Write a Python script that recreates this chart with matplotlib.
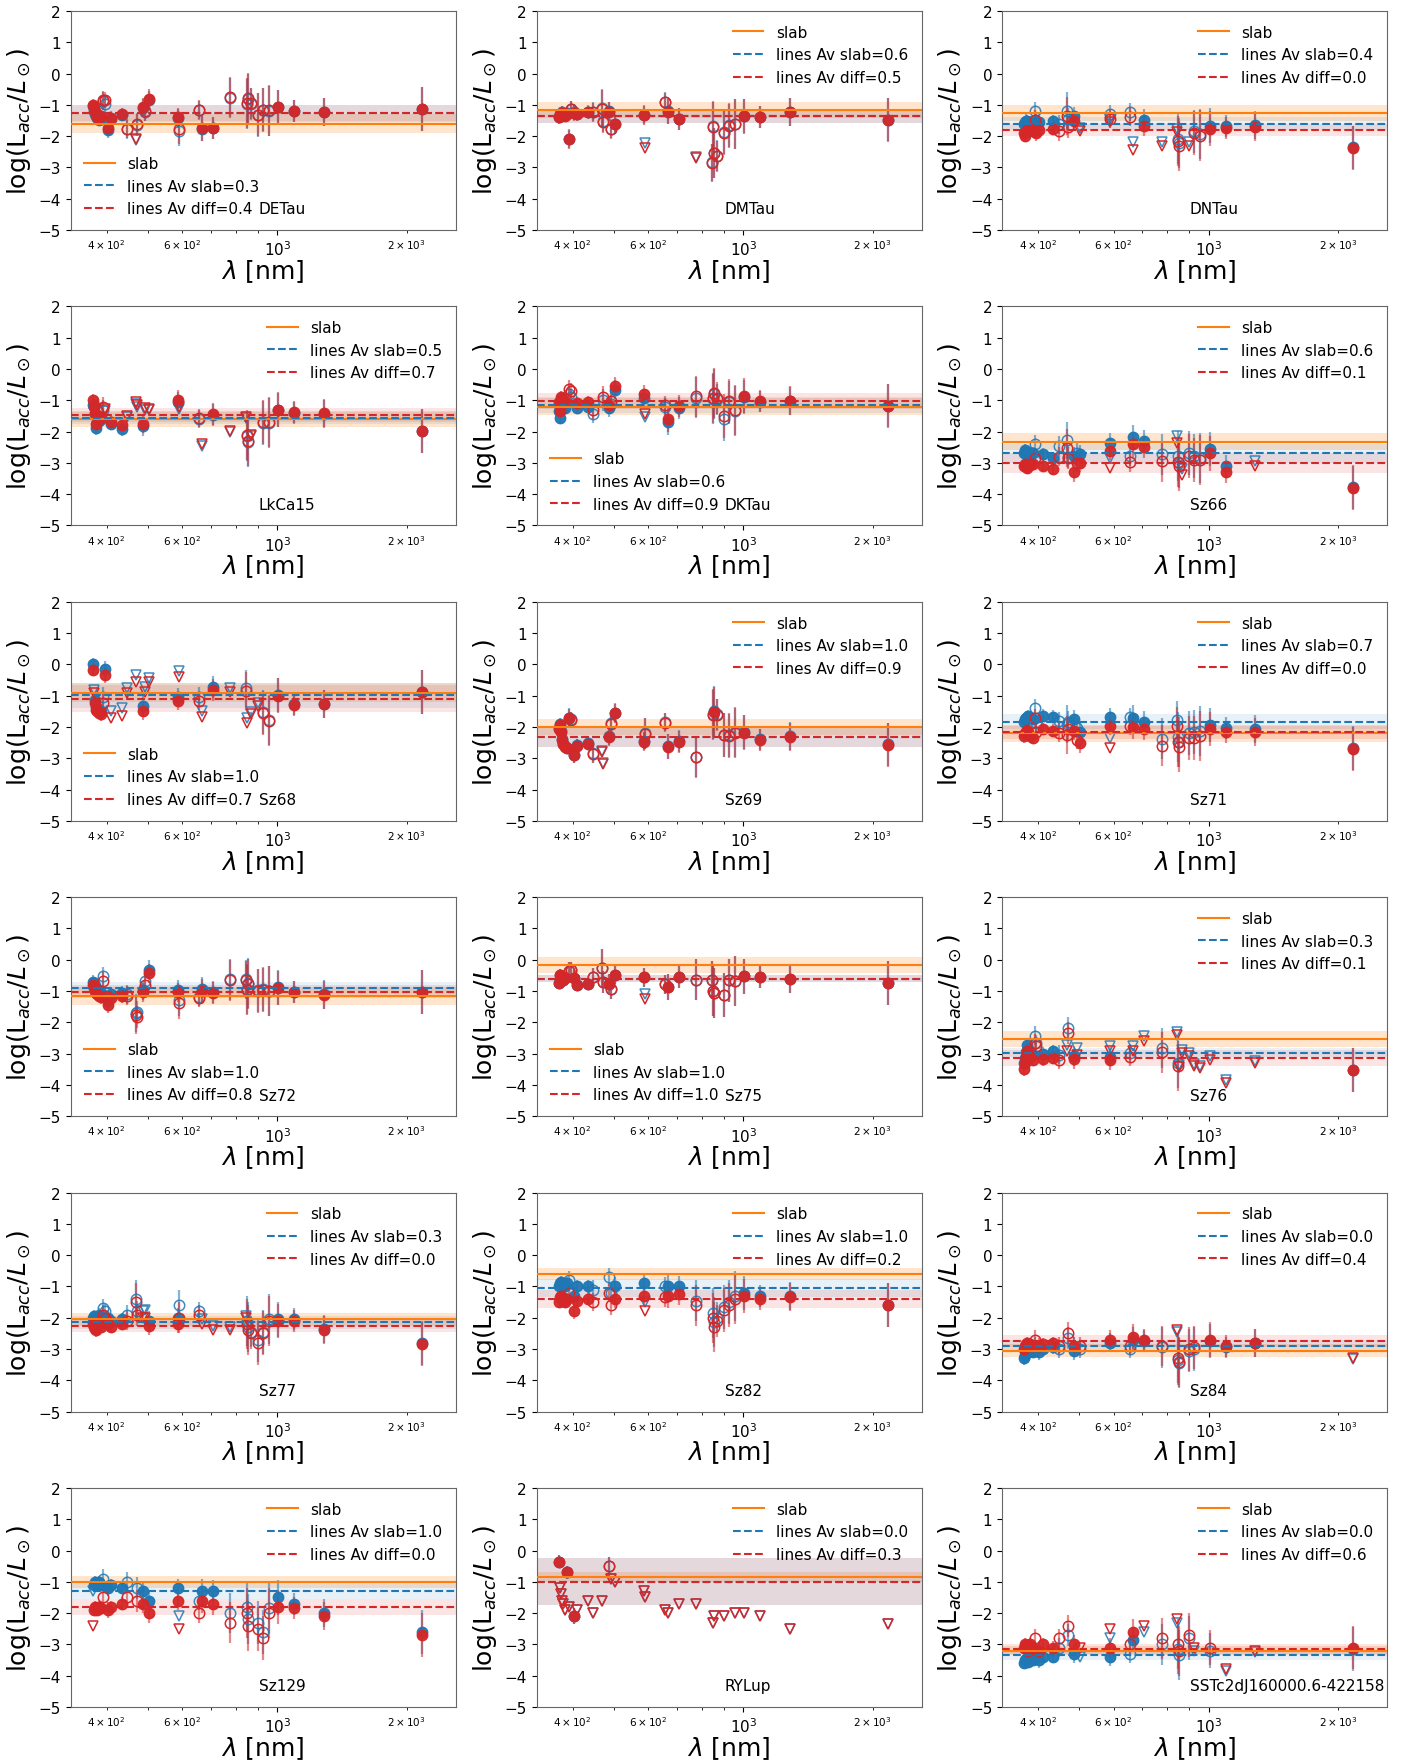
import numpy as np
import matplotlib
matplotlib.use('Agg')
import matplotlib.pyplot as plt
from matplotlib.lines import Line2D

# ---------------- data ----------------
LINE_WL = [371.2, 373.4, 375.0, 377.1, 379.8, 383.5, 388.9, 393.4, 396.8, 402.6,
           410.2, 434.0, 447.1, 468.6, 471.3, 486.1, 492.2, 501.6, 587.6, 589.0,
           656.3, 667.8, 706.5, 777.3, 844.6, 849.8, 854.2, 866.2, 901.5, 922.9,
           954.6, 1004.9, 1093.8, 1281.8, 2166.1]
LINE_ERR = [0.2, 0.2, 0.2, 0.2, 0.2, 0.2, 0.2, 0.3, 0.25, 0.25,
            0.2, 0.2, 0.3, 0.6, 0.35, 0.3, 0.3, 0.3, 0.3, 0.5,
            0.3, 0.4, 0.35, 0.65, 0.6, 0.8, 0.8, 0.5, 0.7, 0.7,
            0.8, 0.55, 0.35, 0.45, 0.7]

STARS = ['DETau', 'DMTau', 'DNTau', 'LkCa15', 'DKTau', 'Sz66',
         'Sz68', 'Sz69', 'Sz71', 'Sz72', 'Sz75', 'Sz76',
         'Sz77', 'Sz82', 'Sz84', 'Sz129', 'RYLup', 'SSTc2dJ160000.6-422158']
AV_SLAB = [0.3, 0.6, 0.4, 0.5, 0.6, 0.6, 1.0, 1.0, 0.7, 1.0, 1.0, 0.3, 0.3, 1.0, 0.0, 1.0, 0.0, 0.0]
AV_DIFF = [0.4, 0.5, 0.0, 0.7, 0.9, 0.1, 0.7, 0.9, 0.0, 0.8, 1.0, 0.1, 0.0, 0.2, 0.4, 0.0, 0.3, 0.6]
SLAB_LOG = [-1.60, -1.17, -1.27, -1.60, -1.21, -2.33, -0.90, -2.00, -2.20, -1.16, -0.17, -2.53,
            -2.05, -0.60, -3.05, -1.00, -0.85, -3.20]
SLAB_ERR = [0.30, 0.25, 0.25, 0.25, 0.27, 0.27, 0.30, 0.25, 0.27, 0.29, 0.26, 0.26,
            0.20, 0.20, 0.20, 0.20, 0.15, 0.15]
BLUE_MEAN = [-1.26, -1.37, -1.60, -1.56, -1.16, -2.70, -0.98, -2.33, -1.83, -0.91, -0.60, -2.97,
             -2.15, -1.05, -2.90, -1.30, -1.00, -3.35]
BLUE_STD = [0.27, 0.20, 0.20, 0.20, 0.25, 0.30, 0.40, 0.30, 0.23, 0.20, 0.12, 0.15,
            0.20, 0.30, 0.20, 0.25, 0.75, 0.15]
RED_MEAN = [-1.27, -1.37, -1.81, -1.47, -1.03, -3.01, -1.10, -2.33, -2.17, -1.02, -0.60, -3.14,
            -2.25, -1.40, -2.75, -1.80, -1.00, -3.15]
RED_STD = [0.27, 0.20, 0.19, 0.22, 0.25, 0.33, 0.43, 0.30, 0.20, 0.20, 0.12, 0.25,
           0.20, 0.30, 0.20, 0.25, 0.75, 0.15]
LEGEND_LOC = ['lower left', 'upper right', 'upper right', 'upper right', 'lower left', 'upper right',
              'lower left', 'upper right', 'upper right', 'lower left', 'lower left', 'upper right',
              'upper right', 'upper right', 'upper right', 'upper right', 'upper right', 'upper right']

# points: (wavelength nm, red value, blue value, kind) ; f=filled, o=open, v=upper limit
DETau = [(371.2, -1.02, -1.05, 'f'), (373.4, -1.10, -1.20, 'f'), (375.0, -1.20, -1.30, 'f'),
         (377.1, -1.30, -1.36, 'f'), (379.8, -1.38, -1.42, 'f'), (383.5, -1.40, -1.48, 'f'),
         (388.9, -1.35, -1.45, 'f'), (393.4, -0.85, -0.88, 'o'), (396.8, -0.85, -0.98, 'o'),
         (402.6, -1.74, -1.80, 'f'), (410.2, -1.41, -1.45, 'f'), (434.0, -1.29, -1.33, 'f'),
         (447.1, -1.76, -1.78, 'o'), (468.6, -2.10, -2.12, 'v'), (471.3, -1.60, -1.63, 'o'),
         (486.1, -1.07, -1.10, 'f'), (492.2, -1.20, -1.23, 'o'), (501.6, -0.80, -0.85, 'f'),
         (587.6, -1.40, -1.43, 'f'), (589.0, -1.76, -1.82, 'o'), (656.3, -1.15, -1.17, 'o'),
         (667.8, -1.74, -1.76, 'f'), (706.5, -1.74, -1.75, 'f'), (777.3, -0.75, -0.78, 'o'),
         (849.8, -0.95, -0.97, 'o'), (854.2, -0.78, -0.80, 'o'), (866.2, -0.95, -0.97, 'o'),
         (901.5, -1.31, -1.33, 'o'), (922.9, -1.15, -1.17, 'o'), (954.6, -1.18, -1.20, 'o'),
         (1004.9, -1.07, -1.08, 'f'), (1093.8, -1.20, -1.21, 'f'), (1281.8, -1.22, -1.22, 'f'),
         (2166.1, -1.13, -1.13, 'f')]
DMTau = [(371.2, -1.40, -1.38, 'f'), (373.4, -1.30, -1.28, 'f'), (375.0, -1.35, -1.33, 'f'),
         (377.1, -1.25, -1.23, 'f'), (379.8, -1.30, -1.28, 'f'), (383.5, -1.35, -1.33, 'f'),
         (388.9, -1.28, -1.26, 'f'), (393.4, -2.10, -2.08, 'f'), (396.8, -1.14, -1.12, 'o'),
         (402.6, -1.25, -1.23, 'o'), (410.2, -1.30, -1.28, 'f'), (434.0, -1.24, -1.22, 'f'),
         (447.1, -1.24, -1.22, 'o'), (468.6, -1.12, -1.10, 'o'), (471.3, -1.55, -1.53, 'o'),
         (486.1, -1.22, -1.20, 'f'), (492.2, -1.78, -1.76, 'o'), (501.6, -1.62, -1.60, 'f'),
         (587.6, -1.33, -1.31, 'f'), (589.0, -2.37, -2.23, 'v'), (656.3, -0.92, -0.90, 'o'),
         (667.8, -1.22, -1.20, 'f'), (706.5, -1.46, -1.44, 'f'), (777.3, -2.70, -2.68, 'v'),
         (844.6, -2.86, -2.84, 'o'), (849.8, -1.70, -1.68, 'o'), (854.2, -2.55, -2.53, 'o'),
         (866.2, -2.64, -2.62, 'o'), (901.5, -1.89, -1.87, 'o'), (922.9, -1.67, -1.65, 'o'),
         (954.6, -1.62, -1.60, 'o'), (1004.9, -1.37, -1.36, 'f'), (1093.8, -1.40, -1.39, 'f'),
         (1281.8, -1.24, -1.23, 'f'), (2166.1, -1.48, -1.47, 'f')]
DNTau = [(371.2, -1.90, -1.62, 'f'), (373.4, -2.00, -1.55, 'f'), (375.0, -1.85, -1.50, 'f'),
         (377.1, -1.79, -1.52, 'f'), (379.8, -1.85, -1.58, 'f'), (383.5, -1.80, -1.55, 'f'),
         (388.9, -1.82, -1.60, 'f'), (393.4, -1.47, -1.20, 'o'), (396.8, -1.90, -1.55, 'f'),
         (402.6, -1.79, -1.55, 'f'), (434.0, -1.76, -1.52, 'f'), (447.1, -1.84, -1.62, 'o'),
         (468.6, -1.36, -1.20, 'o'), (471.3, -1.70, -1.45, 'o'), (486.1, -1.50, -1.36, 'f'),
         (501.6, -1.85, -1.75, 'v'), (587.6, -1.45, -1.30, 'o'), (589.0, -1.55, -1.45, 'v'),
         (656.3, -1.38, -1.23, 'o'), (667.8, -2.43, -2.20, 'v'), (706.5, -1.66, -1.47, 'f'),
         (777.3, -2.33, -2.20, 'v'), (844.6, -1.87, -1.76, 'v'), (849.8, -2.15, -2.10, 'o'),
         (854.2, -2.30, -2.22, 'o'), (901.5, -2.33, -2.20, 'v'), (922.9, -1.90, -1.85, 'o'),
         (954.6, -1.98, -1.93, 'o'), (1004.9, -1.76, -1.66, 'f'), (1093.8, -1.74, -1.68, 'f'),
         (1281.8, -1.70, -1.65, 'f'), (2166.1, -2.38, -2.36, 'f')]
LkCa15 = [(371.2, -1.00, -1.14, 'f'), (373.4, -1.20, -1.15, 'f'), (375.0, -1.40, -1.45, 'f'),
          (377.1, -1.75, -1.90, 'f'), (379.8, -1.50, -1.70, 'f'), (383.5, -1.60, -1.65, 'f'),
          (388.9, -1.55, -1.60, 'f'), (393.4, -1.20, -1.30, 'o'), (396.8, -1.28, -1.35, 'v'),
          (410.2, -1.70, -1.75, 'f'), (434.0, -1.80, -1.93, 'f'), (447.1, -1.50, -1.55, 'v'),
          (468.6, -1.07, -1.12, 'v'), (471.3, -1.14, -1.20, 'v'), (486.1, -1.75, -1.83, 'f'),
          (492.2, -1.25, -1.30, 'v'), (501.6, -1.27, -1.32, 'v'), (587.6, -0.98, -1.05, 'f'),
          (589.0, -1.22, -1.28, 'v'), (656.3, -1.57, -1.60, 'o'), (667.8, -2.40, -2.45, 'v'),
          (706.5, -1.43, -1.47, 'f'), (777.3, -1.99, -2.02, 'v'), (844.6, -1.54, -1.57, 'v'),
          (849.8, -2.12, -2.15, 'o'), (854.2, -2.30, -2.32, 'o'), (866.2, -2.12, -2.14, 'v'),
          (922.9, -1.70, -1.72, 'o'), (954.6, -1.70, -1.72, 'o'), (1004.9, -1.30, -1.32, 'f'),
          (1093.8, -1.38, -1.40, 'f'), (1281.8, -1.42, -1.43, 'f'), (2166.1, -1.97, -1.97, 'f')]
DKTau = [(371.2, -1.06, -1.35, 'f'), (373.4, -1.35, -1.56, 'f'), (375.0, -0.90, -1.10, 'f'),
         (377.1, -0.95, -1.15, 'f'), (379.8, -1.00, -1.20, 'f'), (383.5, -1.05, -1.25, 'f'),
         (393.4, -0.64, -0.80, 'o'), (396.8, -0.71, -0.90, 'o'), (410.2, -1.09, -1.25, 'f'),
         (434.0, -1.06, -1.20, 'f'), (447.1, -1.30, -1.43, 'o'), (471.3, -0.90, -1.00, 'o'),
         (486.1, -1.15, -1.24, 'f'), (492.2, -1.03, -1.12, 'o'), (501.6, -0.55, -0.66, 'f'),
         (587.6, -0.80, -0.93, 'f'), (589.0, -1.45, -1.55, 'v'), (656.3, -1.16, -1.22, 'o'),
         (667.8, -1.60, -1.70, 'f'), (706.5, -1.17, -1.25, 'f'), (777.3, -0.87, -0.92, 'o'),
         (849.8, -0.93, -0.97, 'o'), (854.2, -0.77, -0.80, 'o'), (866.2, -0.93, -0.97, 'o'),
         (901.5, -1.51, -1.60, 'o'), (922.9, -1.03, -1.07, 'o'), (954.6, -1.30, -1.34, 'o'),
         (1004.9, -0.85, -0.90, 'f'), (1093.8, -1.01, -1.04, 'f'), (1281.8, -1.01, -1.03, 'f'),
         (2166.1, -1.17, -1.18, 'f')]
Sz66 = [(371.2, -3.10, -2.70, 'f'), (373.4, -3.05, -2.60, 'f'), (375.0, -3.10, -2.65, 'f'),
        (377.1, -3.15, -2.70, 'f'), (379.8, -3.10, -2.75, 'f'), (383.5, -3.05, -2.70, 'f'),
        (388.9, -3.05, -2.70, 'f'), (393.4, -2.84, -2.41, 'o'), (410.2, -3.10, -2.73, 'f'),
        (434.0, -3.20, -2.84, 'f'), (447.1, -2.80, -2.45, 'o'), (468.6, -2.52, -2.28, 'o'),
        (471.3, -2.84, -2.80, 'o'), (486.1, -3.30, -2.79, 'f'), (492.2, -3.00, -2.68, 'o'),
        (501.6, -3.00, -2.73, 'f'), (587.6, -2.62, -2.36, 'f'), (589.0, -3.16, -2.84, 'v'),
        (656.3, -2.98, -2.79, 'o'), (667.8, -2.41, -2.18, 'f'), (706.5, -2.49, -2.31, 'f'),
        (777.3, -2.95, -2.73, 'o'), (844.6, -2.38, -2.15, 'v'), (849.8, -2.98, -2.79, 'o'),
        (854.2, -3.10, -3.00, 'o'), (866.2, -3.40, -3.20, 'v'), (901.5, -2.79, -2.68, 'o'),
        (922.9, -2.92, -2.79, 'o'), (954.6, -2.92, -2.84, 'o'), (1004.9, -2.70, -2.55, 'f'),
        (1093.8, -3.30, -3.10, 'f'), (1281.8, -3.10, -2.95, 'v'), (2166.1, -3.80, -3.77, 'f')]
Sz68 = [(371.2, -0.18, 0.00, 'f'), (373.4, -0.93, -0.82, 'v'), (375.0, -1.25, -1.15, 'f'),
        (377.1, -1.45, -1.35, 'f'), (379.8, -1.50, -1.40, 'f'), (383.5, -1.55, -1.45, 'f'),
        (388.9, -1.60, -1.50, 'f'), (393.4, -1.24, -1.03, 'o'), (396.8, -0.34, -0.15, 'f'),
        (410.2, -1.72, -1.50, 'v'), (434.0, -1.64, -1.40, 'v'), (447.1, -0.93, -0.75, 'v'),
        (468.6, -0.55, -0.34, 'v'), (486.1, -1.49, -1.32, 'f'), (492.2, -0.87, -0.71, 'v'),
        (501.6, -0.55, -0.43, 'v'), (587.6, -1.17, -1.05, 'f'), (589.0, -0.39, -0.21, 'v'),
        (656.3, -1.17, -1.03, 'o'), (667.8, -1.67, -1.49, 'v'), (706.5, -0.82, -0.71, 'f'),
        (777.3, -0.89, -0.77, 'v'), (844.6, -0.85, -0.77, 'o'), (849.8, -1.88, -1.72, 'v'),
        (866.2, -1.60, -1.51, 'v'), (901.5, -1.32, -1.25, 'v'), (922.9, -1.55, -1.51, 'o'),
        (954.6, -1.81, -1.78, 'o'), (1004.9, -1.00, -0.98, 'f'), (1093.8, -1.30, -1.28, 'f'),
        (1281.8, -1.27, -1.26, 'f'), (2166.1, -0.89, -0.88, 'f')]
Sz69 = [(371.2, -2.05, -2.03, 'f'), (373.4, -1.94, -1.92, 'f'), (375.0, -2.15, -2.13, 'f'),
        (377.1, -2.41, -2.39, 'f'), (379.8, -2.55, -2.53, 'f'), (383.5, -2.63, -2.61, 'f'),
        (388.9, -2.68, -2.66, 'f'), (393.4, -1.72, -1.70, 'f'), (396.8, -1.78, -1.76, 'o'),
        (402.6, -2.91, -2.89, 'f'), (410.2, -2.60, -2.58, 'f'), (434.0, -2.54, -2.52, 'f'),
        (447.1, -2.86, -2.84, 'o'), (468.6, -2.79, -2.77, 'v'), (471.3, -3.18, -3.16, 'v'),
        (486.1, -2.31, -2.29, 'f'), (492.2, -1.90, -1.88, 'o'), (501.6, -1.56, -1.54, 'f'),
        (587.6, -2.47, -2.45, 'f'), (589.0, -2.22, -2.20, 'o'), (656.3, -1.86, -1.84, 'o'),
        (667.8, -2.63, -2.61, 'f'), (706.5, -2.47, -2.45, 'f'), (777.3, -2.97, -2.95, 'o'),
        (849.8, -1.62, -1.60, 'o'), (854.2, -1.51, -1.49, 'f'), (866.2, -1.62, -1.60, 'o'),
        (901.5, -2.26, -2.25, 'o'), (922.9, -2.28, -2.27, 'o'), (954.6, -2.18, -2.17, 'o'),
        (1004.9, -2.18, -2.17, 'f'), (1093.8, -2.41, -2.40, 'f'), (1281.8, -2.31, -2.30, 'f'),
        (2166.1, -2.57, -2.56, 'f')]
Sz71 = [(371.2, -2.30, -1.85, 'f'), (373.4, -2.20, -1.75, 'f'), (375.0, -2.15, -1.70, 'f'),
        (377.1, -2.10, -1.68, 'f'), (379.8, -2.15, -1.65, 'f'), (383.5, -2.30, -1.70, 'f'),
        (388.9, -2.35, -1.75, 'f'), (393.4, -1.72, -1.40, 'o'), (396.8, -2.15, -1.88, 'o'),
        (410.2, -2.06, -1.64, 'f'), (434.0, -2.12, -1.67, 'f'), (447.1, -2.18, -1.81, 'o'),
        (468.6, -2.26, -1.90, 'o'), (471.3, -2.06, -1.83, 'o'), (486.1, -2.12, -1.76, 'f'),
        (492.2, -2.41, -2.04, 'o'), (501.6, -2.52, -2.15, 'f'), (587.6, -1.97, -1.69, 'f'),
        (589.0, -2.68, -2.36, 'v'), (656.3, -1.96, -1.69, 'o'), (667.8, -1.99, -1.70, 'f'),
        (706.5, -2.06, -1.83, 'f'), (777.3, -2.60, -2.38, 'o'), (844.6, -1.96, -1.78, 'o'),
        (849.8, -2.47, -2.31, 'o'), (854.2, -2.65, -2.47, 'o'), (901.5, -2.36, -2.20, 'o'),
        (922.9, -2.36, -2.15, 'o'), (954.6, -2.28, -2.12, 'o'), (1004.9, -2.06, -1.94, 'f'),
        (1093.8, -2.15, -2.04, 'f'), (1281.8, -2.15, -2.06, 'f'), (2166.1, -2.70, -2.68, 'f')]
Sz72 = [(371.2, -0.80, -0.70, 'f'), (373.4, -0.90, -0.75, 'f'), (375.0, -1.00, -0.85, 'f'),
        (377.1, -1.05, -0.90, 'f'), (379.8, -1.10, -0.95, 'f'), (383.5, -1.15, -1.00, 'f'),
        (388.9, -1.20, -1.05, 'f'), (393.4, -0.69, -0.53, 'o'), (402.6, -1.44, -1.33, 'f'),
        (410.2, -1.22, -1.10, 'f'), (434.0, -1.17, -1.05, 'f'), (447.1, -1.15, -1.10, 'o'),
        (468.6, -1.76, -1.70, 'o'), (471.3, -1.83, -1.68, 'o'), (486.1, -1.04, -0.98, 'f'),
        (492.2, -0.80, -0.69, 'o'), (501.6, -0.43, -0.32, 'f'), (587.6, -1.04, -0.96, 'f'),
        (589.0, -1.38, -1.30, 'o'), (656.3, -1.22, -1.18, 'o'), (667.8, -1.01, -0.95, 'f'),
        (706.5, -1.06, -1.02, 'f'), (777.3, -0.66, -0.63, 'o'), (844.6, -0.64, -0.61, 'o'),
        (849.8, -0.96, -0.93, 'o'), (854.2, -0.77, -0.74, 'o'), (901.5, -1.01, -0.98, 'o'),
        (922.9, -0.96, -0.94, 'o'), (954.6, -1.01, -0.99, 'o'), (1004.9, -0.90, -0.88, 'f'),
        (1093.8, -1.04, -1.03, 'f'), (1281.8, -1.12, -1.11, 'f'), (2166.1, -1.04, -1.04, 'f')]
Sz75 = [(371.2, -0.74, -0.74, 'f'), (373.4, -0.48, -0.48, 'f'), (375.0, -0.53, -0.53, 'f'),
        (377.1, -0.59, -0.59, 'f'), (379.8, -0.64, -0.64, 'f'), (383.5, -0.59, -0.59, 'f'),
        (393.4, -0.37, -0.37, 'o'), (396.8, -0.32, -0.32, 'o'), (402.6, -0.59, -0.59, 'f'),
        (410.2, -0.80, -0.80, 'f'), (434.0, -0.78, -0.78, 'f'), (447.1, -0.56, -0.56, 'o'),
        (468.6, -0.27, -0.27, 'o'), (471.3, -0.71, -0.71, 'o'), (486.1, -0.77, -0.77, 'f'),
        (492.2, -0.94, -0.94, 'o'), (501.6, -0.48, -0.48, 'f'), (587.6, -0.56, -0.56, 'f'),
        (589.0, -1.25, -1.10, 'v'), (656.3, -0.78, -0.78, 'o'), (667.8, -0.87, -0.87, 'f'),
        (706.5, -0.56, -0.56, 'f'), (777.3, -0.64, -0.64, 'o'), (844.6, -0.64, -0.64, 'o'),
        (849.8, -1.01, -1.01, 'o'), (854.2, -1.06, -1.06, 'o'), (901.5, -1.12, -1.12, 'o'),
        (922.9, -0.66, -0.66, 'o'), (954.6, -0.69, -0.69, 'o'), (1004.9, -0.53, -0.53, 'f'),
        (1093.8, -0.55, -0.55, 'f'), (1281.8, -0.60, -0.60, 'f'), (2166.1, -0.73, -0.73, 'f')]
Sz76 = [(371.2, -3.50, -3.30, 'f'), (373.4, -3.30, -3.15, 'f'), (375.0, -3.10, -2.95, 'f'),
        (377.1, -2.90, -2.72, 'f'), (379.8, -3.00, -2.85, 'f'), (383.5, -3.10, -2.95, 'f'),
        (388.9, -3.20, -3.05, 'f'), (393.4, -2.66, -2.43, 'o'), (396.8, -2.77, -2.65, 'o'),
        (410.2, -3.18, -3.00, 'f'), (434.0, -3.14, -2.93, 'f'), (447.1, -3.19, -3.03, 'o'),
        (468.6, -2.93, -2.74, 'v'), (471.3, -2.33, -2.19, 'o'), (486.1, -3.18, -3.08, 'f'),
        (492.2, -3.03, -2.82, 'v'), (587.6, -3.21, -3.10, 'f'), (589.0, -2.93, -2.77, 'v'),
        (656.3, -3.10, -2.98, 'o'), (667.8, -2.93, -2.77, 'v'), (706.5, -2.61, -2.43, 'v'),
        (777.3, -2.96, -2.82, 'o'), (844.6, -2.42, -2.30, 'v'), (849.8, -3.40, -3.30, 'o'),
        (854.2, -3.42, -3.35, 'v'), (866.2, -2.98, -2.87, 'v'), (901.5, -3.08, -2.98, 'v'),
        (922.9, -3.40, -3.33, 'v'), (954.6, -3.47, -3.40, 'v'), (1004.9, -3.19, -3.08, 'v'),
        (1093.8, -3.94, -3.83, 'v'), (1281.8, -3.30, -3.25, 'v'), (2166.1, -3.53, -3.52, 'f')]
Sz77 = [(371.2, -2.20, -2.00, 'f'), (373.4, -2.30, -1.95, 'f'), (375.0, -2.35, -2.00, 'f'),
        (377.1, -2.40, -2.10, 'f'), (379.8, -2.30, -2.05, 'f'), (383.5, -2.20, -1.90, 'f'),
        (388.9, -2.30, -2.00, 'f'), (393.4, -1.90, -1.70, 'o'), (396.8, -2.00, -1.80, 'o'),
        (402.6, -2.20, -2.00, 'f'), (410.2, -2.30, -2.10, 'f'), (434.0, -2.20, -2.05, 'f'),
        (447.1, -2.10, -1.90, 'o'), (468.6, -1.50, -1.40, 'o'), (471.3, -1.90, -1.80, 'o'),
        (486.1, -2.00, -1.80, 'v'), (492.2, -2.00, -1.75, 'v'), (501.6, -2.25, -2.10, 'f'),
        (587.6, -2.20, -2.00, 'f'), (589.0, -2.00, -1.60, 'o'), (656.3, -1.90, -1.80, 'o'),
        (667.8, -2.20, -2.05, 'v'), (706.5, -2.40, -2.25, 'v'), (777.3, -2.40, -2.30, 'v'),
        (844.6, -2.00, -1.95, 'v'), (849.8, -2.20, -2.10, 'o'), (854.2, -2.40, -2.30, 'o'),
        (866.2, -2.50, -2.45, 'o'), (901.5, -2.80, -2.70, 'o'), (922.9, -2.50, -2.45, 'o'),
        (954.6, -2.10, -2.05, 'o'), (1004.9, -2.10, -2.05, 'f'), (1093.8, -2.10, -2.05, 'f'),
        (1281.8, -2.40, -2.35, 'f'), (2166.1, -2.85, -2.80, 'f')]
Sz82 = [(371.2, -1.50, -1.00, 'f'), (373.4, -1.35, -0.90, 'f'), (375.0, -1.30, -0.85, 'f'),
        (377.1, -1.40, -0.90, 'f'), (379.8, -1.45, -0.95, 'f'), (383.5, -1.50, -1.00, 'f'),
        (388.9, -1.40, -0.90, 'f'), (393.4, -1.20, -0.80, 'o'), (402.6, -1.80, -1.30, 'f'),
        (410.2, -1.45, -1.00, 'f'), (434.0, -1.40, -1.00, 'f'), (447.1, -1.50, -1.10, 'o'),
        (486.1, -1.20, -0.70, 'o'), (492.2, -1.60, -1.20, 'o'), (501.6, -1.40, -1.00, 'f'),
        (587.6, -1.30, -0.90, 'f'), (589.0, -1.80, -1.50, 'v'), (656.3, -1.35, -1.00, 'o'),
        (667.8, -1.30, -1.00, 'f'), (706.5, -1.25, -1.00, 'f'), (777.3, -1.60, -1.45, 'o'),
        (849.8, -2.00, -1.85, 'o'), (854.2, -2.30, -2.15, 'o'), (866.2, -2.10, -2.00, 'o'),
        (901.5, -1.75, -1.65, 'o'), (922.9, -1.60, -1.50, 'o'), (954.6, -1.40, -1.30, 'o'),
        (1004.9, -1.30, -1.20, 'f'), (1093.8, -1.40, -1.30, 'f'), (1281.8, -1.35, -1.30, 'f'),
        (2166.1, -1.60, -1.58, 'f')]
Sz84 = [(371.2, -3.00, -3.30, 'f'), (373.4, -2.90, -3.20, 'f'), (375.0, -2.85, -3.10, 'f'),
        (377.1, -2.80, -3.05, 'f'), (379.8, -2.90, -3.10, 'f'), (383.5, -2.85, -3.05, 'f'),
        (388.9, -2.90, -3.10, 'f'), (393.4, -2.70, -2.90, 'o'), (402.6, -2.90, -3.10, 'f'),
        (410.2, -2.85, -3.00, 'f'), (434.0, -2.80, -2.95, 'f'), (447.1, -2.90, -3.00, 'o'),
        (471.3, -2.50, -2.65, 'o'), (486.1, -2.90, -3.05, 'f'), (501.6, -2.90, -3.00, 'o'),
        (587.6, -2.70, -2.80, 'f'), (656.3, -2.90, -3.00, 'o'), (667.8, -2.60, -2.70, 'f'),
        (706.5, -2.70, -2.75, 'f'), (777.3, -2.90, -2.95, 'o'), (844.6, -2.40, -2.45, 'v'),
        (849.8, -3.30, -3.35, 'o'), (854.2, -3.40, -3.45, 'o'), (901.5, -3.00, -3.05, 'o'),
        (922.9, -2.95, -3.00, 'o'), (1004.9, -2.70, -2.75, 'f'), (1093.8, -2.90, -2.95, 'f'),
        (1281.8, -2.80, -2.82, 'f'), (2166.1, -3.30, -3.32, 'v')]
Sz129 = [(371.2, -2.40, -1.30, 'v'), (373.4, -1.90, -1.10, 'f'), (375.0, -1.80, -1.00, 'f'),
         (377.1, -1.85, -1.05, 'f'), (379.8, -1.90, -1.10, 'f'), (383.5, -1.80, -1.00, 'f'),
         (388.9, -1.85, -1.10, 'f'), (393.4, -1.50, -0.90, 'o'), (402.6, -1.90, -1.20, 'f'),
         (410.2, -1.80, -1.10, 'f'), (434.0, -1.70, -1.20, 'f'), (447.1, -1.50, -1.00, 'o'),
         (471.3, -1.60, -1.20, 'o'), (486.1, -1.70, -1.30, 'f'), (501.6, -2.00, -1.60, 'f'),
         (587.6, -1.60, -1.20, 'f'), (589.0, -2.50, -2.10, 'v'), (656.3, -2.00, -1.60, 'o'),
         (667.8, -1.60, -1.30, 'f'), (706.5, -1.70, -1.30, 'f'), (777.3, -2.30, -2.00, 'o'),
         (849.8, -2.00, -1.80, 'o'), (854.2, -2.40, -2.20, 'o'), (901.5, -2.50, -2.30, 'o'),
         (922.9, -2.80, -2.60, 'o'), (954.6, -2.00, -1.85, 'o'), (1004.9, -1.80, -1.50, 'f'),
         (1093.8, -1.85, -1.70, 'f'), (1281.8, -2.10, -2.00, 'f'), (2166.1, -2.70, -2.60, 'f')]
RYLup = [(371.2, -0.35, -0.35, 'f'), (373.4, -1.20, -1.20, 'v'), (375.0, -1.40, -1.40, 'v'),
         (377.1, -1.60, -1.60, 'v'), (379.8, -1.70, -1.70, 'v'), (383.5, -1.90, -1.90, 'v'),
         (388.9, -0.70, -0.70, 'f'), (393.4, -1.80, -1.80, 'v'), (402.6, -2.10, -2.10, 'f'),
         (410.2, -1.90, -1.90, 'v'), (434.0, -1.60, -1.60, 'v'), (447.1, -2.00, -2.00, 'v'),
         (468.6, -1.60, -1.60, 'v'), (486.1, -0.50, -0.50, 'o'), (492.2, -0.90, -0.90, 'v'),
         (501.6, -1.00, -1.00, 'v'), (587.6, -1.30, -1.30, 'v'), (589.0, -1.50, -1.50, 'v'),
         (656.3, -1.90, -1.90, 'v'), (667.8, -2.00, -2.00, 'v'), (706.5, -1.70, -1.70, 'v'),
         (777.3, -1.70, -1.70, 'v'), (849.8, -2.30, -2.30, 'v'), (854.2, -2.10, -2.10, 'v'),
         (901.5, -2.10, -2.10, 'v'), (954.6, -2.00, -2.00, 'v'), (1004.9, -2.00, -2.00, 'v'),
         (1093.8, -2.10, -2.10, 'v'), (1281.8, -2.50, -2.50, 'v'), (2166.1, -2.35, -2.35, 'v')]
SSTc2d = [(371.2, -3.10, -3.60, 'f'), (373.4, -3.00, -3.50, 'f'), (375.0, -3.05, -3.45, 'f'),
          (377.1, -3.10, -3.50, 'f'), (379.8, -3.20, -3.55, 'f'), (383.5, -3.00, -3.40, 'f'),
          (388.9, -3.10, -3.50, 'f'), (393.4, -2.80, -3.20, 'o'), (402.6, -3.20, -3.50, 'f'),
          (410.2, -3.00, -3.40, 'f'), (434.0, -3.10, -3.40, 'f'), (447.1, -2.80, -3.10, 'o'),
          (471.3, -2.40, -2.70, 'o'), (486.1, -3.00, -3.30, 'f'), (501.6, -3.10, -3.40, 'v'),
          (587.6, -3.10, -3.40, 'f'), (589.0, -2.50, -2.80, 'v'), (656.3, -3.00, -3.30, 'o'),
          (667.8, -2.60, -2.85, 'f'), (706.5, -2.40, -2.60, 'v'), (777.3, -2.80, -3.00, 'o'),
          (844.6, -2.20, -2.30, 'v'), (849.8, -3.00, -3.15, 'o'), (854.2, -3.20, -3.35, 'o'),
          (901.5, -2.70, -2.80, 'o'), (922.9, -3.10, -3.20, 'v'), (1004.9, -3.10, -3.20, 'o'),
          (1093.8, -3.80, -3.85, 'v'), (1281.8, -3.20, -3.25, 'v'), (2166.1, -3.10, -3.15, 'f')]

POINTS = [DETau, DMTau, DNTau, LkCa15, DKTau, Sz66, Sz68, Sz69, Sz71,
          Sz72, Sz75, Sz76, Sz77, Sz82, Sz84, Sz129, RYLup, SSTc2d]

# ---------------- style ----------------
C_BLUE = '#1f77b4'
C_RED = '#d62728'
C_ORANGE = '#ff7f0e'

W, H = 1406, 1765
fig = plt.figure(figsize=(W / 100, H / 100), dpi=100)

col_left = [70.7, 536.7, 1002.0]
ax_w, ax_h = 385.0, 219.0
row_top0, row_pitch = 12.0, 295.4


def draw_points(ax, pts, idx, color, open_alpha):
    wl = np.array([p[0] for p in pts])
    y = np.array([p[idx] for p in pts])
    kind = np.array([p[3] for p in pts])
    err = np.array([LINE_ERR[LINE_WL.index(w)] for w in wl])
    det = kind != 'v'
    ax.errorbar(wl[det], y[det], yerr=err[det], fmt='none', ecolor=color,
                elinewidth=1.6, alpha=0.55, zorder=3)
    f = kind == 'f'
    o = kind == 'o'
    v = kind == 'v'
    ax.plot(wl[f], y[f], 'o', ms=7.5, color=color, alpha=0.95, zorder=4)
    ax.plot(wl[o], y[o], 'o', ms=7.5, mfc='none', mec=color, mew=1.1, alpha=open_alpha, zorder=4)
    ax.plot(wl[v], y[v], 'v', ms=7.5, mfc='none', mec=color, mew=1.1, alpha=open_alpha, zorder=4)


for i, name in enumerate(STARS):
    r, c = divmod(i, 3)
    top = row_top0 + r * row_pitch
    rect = [col_left[c] / W, 1 - (top + ax_h) / H, ax_w / W, ax_h / H]
    ax = fig.add_axes(rect)
    ax.set_xscale('log')

    ax.axhspan(SLAB_LOG[i] - SLAB_ERR[i], SLAB_LOG[i] + SLAB_ERR[i], color=C_ORANGE, alpha=0.2, lw=0, zorder=1)
    ax.axhspan(BLUE_MEAN[i] - BLUE_STD[i], BLUE_MEAN[i] + BLUE_STD[i], color=C_BLUE, alpha=0.1, lw=0, zorder=1)
    ax.axhspan(RED_MEAN[i] - RED_STD[i], RED_MEAN[i] + RED_STD[i], color=C_RED, alpha=0.12, lw=0, zorder=1)

    draw_points(ax, POINTS[i], 2, C_BLUE, 0.85)
    draw_points(ax, POINTS[i], 1, C_RED, 1.0)

    ax.axhline(SLAB_LOG[i], color=C_ORANGE, lw=1.5, zorder=5)
    ax.axhline(BLUE_MEAN[i], color=C_BLUE, lw=1.5, ls='--', zorder=5)
    ax.axhline(RED_MEAN[i], color=C_RED, lw=1.5, ls='--', zorder=5)

    handles = [Line2D([], [], color=C_ORANGE, lw=1.5),
               Line2D([], [], color=C_BLUE, lw=1.5, ls='--'),
               Line2D([], [], color=C_RED, lw=1.5, ls='--')]
    labels = ['slab', f'lines Av slab={AV_SLAB[i]:.1f}', f'lines Av diff={AV_DIFF[i]:.1f}']
    ax.legend(handles, labels, loc=LEGEND_LOC[i], frameon=False, fontsize=11)

    ax.text(0.488, 0.096, name, transform=ax.transAxes, fontsize=11, va='center', ha='left')

    ax.set_xlim(330, 2600)
    ax.set_ylim(-5, 2)
    ax.set_yticks(range(-5, 3))
    ax.tick_params(axis='both', which='major', labelsize=11)
    ax.tick_params(axis='x', which='minor', labelsize=7.5)
    ax.set_ylabel(r'log(L$_{acc}/L_\odot$)', fontsize=18)
    ax.set_xlabel(r'$\lambda$ [nm]', fontsize=18, labelpad=-1)
    for s in ax.spines.values():
        s.set_color('0.4')

fig.savefig('out.png', dpi=100)
